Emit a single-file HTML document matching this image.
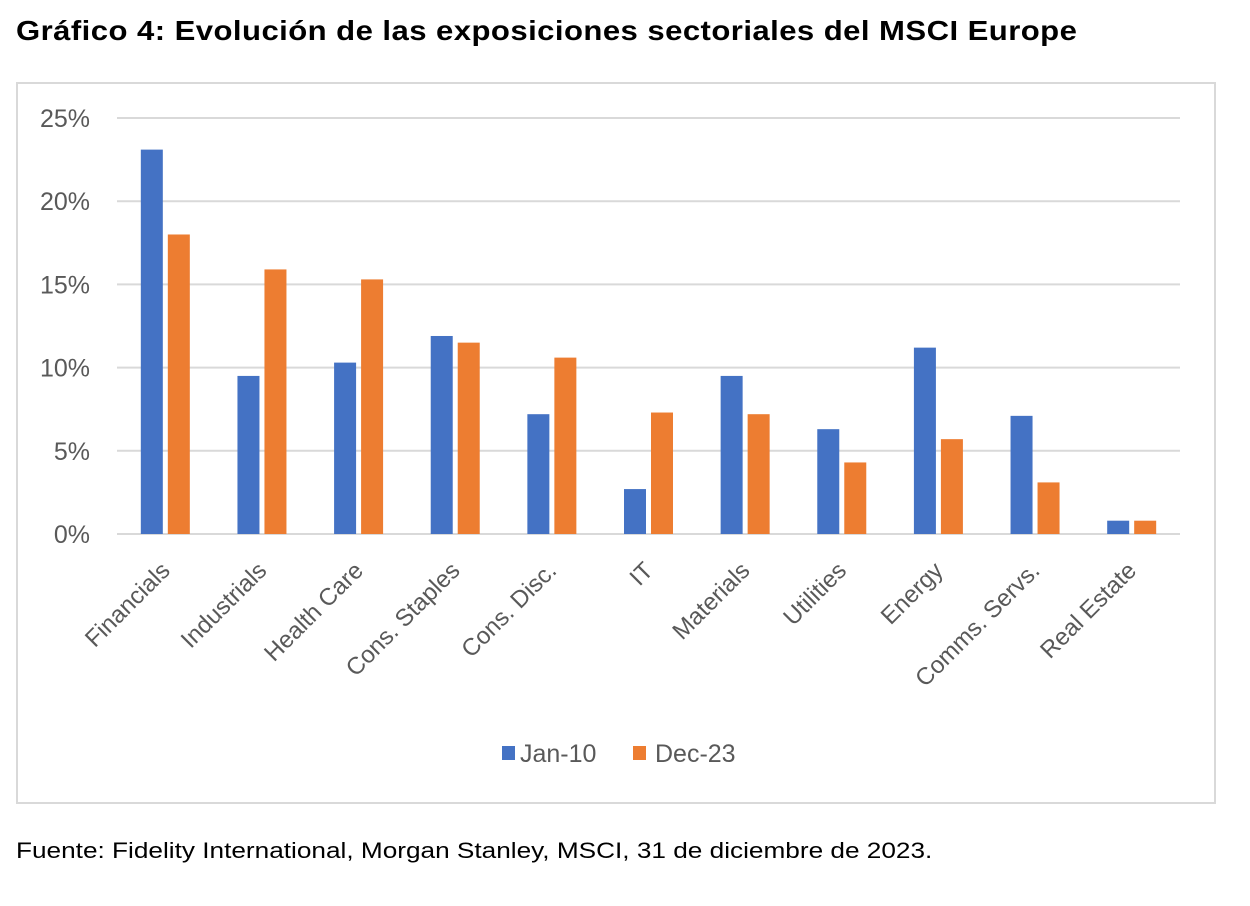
<!DOCTYPE html>
<html><head><meta charset="utf-8"><style>
body{margin:0;width:1250px;height:906px;background:#fff;overflow:hidden;font-family:"Liberation Sans",sans-serif}
#title{position:absolute;left:16px;top:15px;font-size:28px;font-weight:bold;color:#000;white-space:nowrap;letter-spacing:0.4px;transform:scaleX(1.11);transform-origin:left top}
#foot{position:absolute;left:16px;top:838px;font-size:22px;color:#000;white-space:nowrap;transform:scaleX(1.19);transform-origin:left top}
#box{position:absolute;left:16px;top:82px;width:1200px;height:722px;border:2px solid #d9d9d9;box-sizing:border-box}
svg{position:absolute;left:0;top:0}
</style></head><body>
<div id="title">Gráfico 4: Evolución de las exposiciones sectoriales del MSCI Europe</div>
<div id="box"></div>
<svg id="chart" width="1250" height="906"></svg>
<div id="foot">Fuente: Fidelity International, Morgan Stanley, MSCI, 31 de diciembre de 2023.</div>
<script>
const categories=["Financials","Industrials","Health Care","Cons. Staples","Cons. Disc.","IT","Materials","Utilities","Energy","Comms. Servs.","Real Estate"];
const jan10=[23.1,9.5,10.3,11.9,7.2,2.7,9.5,6.3,11.2,7.1,0.8];
const dec23=[18.0,15.9,15.3,11.5,10.6,7.3,7.2,4.3,5.7,3.1,0.8];
const ticks=[0,5,10,15,20,25];
const seriesNames=["Jan-10","Dec-23"];
const colors=["#4472C4","#ED7D31"];
const svg=document.getElementById('chart');const NS="http://www.w3.org/2000/svg";
const x0=117,x1=1180,y0=534,y25=118;
const y=v=>y0-(v/25)*(y0-y25);
const band=(x1-x0)/categories.length;
const cx=i=>x0+band*(i+0.5);
function mk(t,a){const e=document.createElementNS(NS,t);for(const k in a)e.setAttribute(k,a[k]);svg.appendChild(e);return e;}
ticks.forEach(t=>{
 const l=mk('line',{x1:x0,x2:x1,y1:y(t),y2:y(t),stroke:'#d9d9d9','stroke-width':2});
 
 
 const tx=mk('text',{x:90,y:y(t)+9,'text-anchor':'end','font-size':25,fill:'#595959'});tx.textContent=t+'%';
 
 
});
const bw=22,gap=5;
[jan10,dec23].forEach((arr,s)=>{arr.forEach((v,i)=>{
 const bx=s===0?cx(i)-gap/2-bw:cx(i)+gap/2;
 const r=mk('rect',{x:bx,y:y(v),width:bw,height:y0-y(v),fill:colors[s]});
 
 
});});
categories.forEach((c,i)=>{
 const px=cx(i)+6,py=572;
 const t=mk('text',{x:px,y:py,'text-anchor':'end','font-size':24,fill:'#595959',transform:`rotate(-45 ${px} ${py})`});t.textContent=c;
 
 
});
const lg=[[502,520],[633,655]];
seriesNames.forEach((n,s)=>{
 const r=mk('rect',{x:lg[s][0],y:746,width:13,height:14,fill:colors[s]});
 
 
 const t=mk('text',{x:lg[s][1],y:762,'font-size':25,fill:'#595959'});t.textContent=n;
 
 
});
</script>
</body></html>
